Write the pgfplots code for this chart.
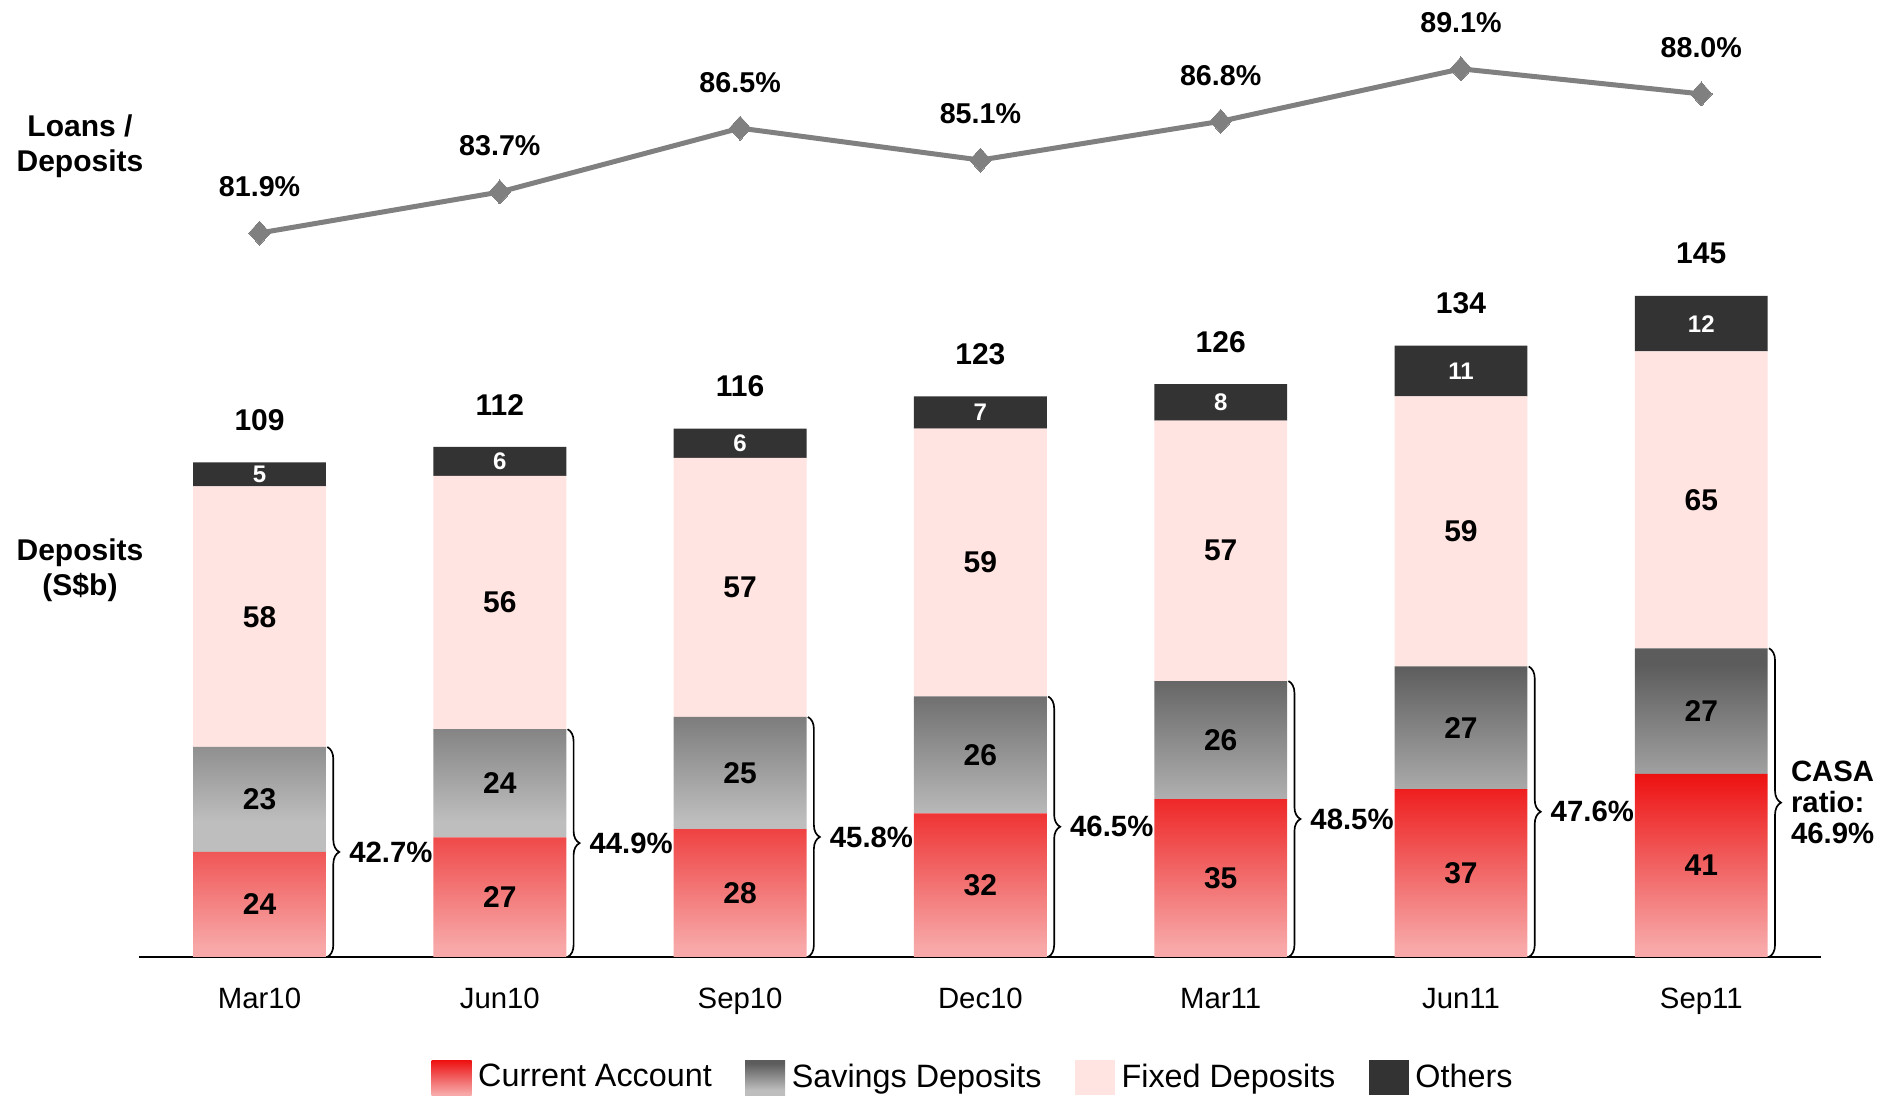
\documentclass[border=0pt]{standalone}
\usepackage{pgfplots}
\pgfplotsset{compat=1.18}
\usepackage{pgfplotstable}
\usepackage{fontspec}
\setmainfont{Liberation Sans}
\usetikzlibrary{decorations.pathreplacing}

\definecolor{caDark}{HTML}{EE1111}
\definecolor{caMid}{HTML}{F16262}
\definecolor{caLight}{HTML}{F8A8A8}
\definecolor{saDark}{HTML}{5C5C5C}
\definecolor{saLight}{HTML}{BEBEBE}
\definecolor{fdCol}{HTML}{FFE4E1}
\definecolor{otCol}{HTML}{333333}
\definecolor{lineCol}{HTML}{808080}

\pgfdeclareverticalshading{caShade}{100bp}{color(0bp)=(caLight); color(27.5bp)=(caLight); color(50bp)=(caMid); color(75bp)=(caDark); color(100bp)=(caDark)}
\pgfdeclareverticalshading{saShade}{100bp}{color(0bp)=(saLight); color(32.5bp)=(saLight); color(71bp)=(saDark); color(100bp)=(saDark)}

\pgfplotstableread{
x ca sa fd ot
0 23.1 23.1 57.3 5.3
1 26.3 23.8 55.7 6.4
2 28.1 24.7 57.0 6.4
3 31.6 25.7 58.9 7.1
4 34.7 26.0 57.3 8.0
5 36.9 27.0 59.4 11.2
6 40.3 27.6 65.3 12.2
}\deposits

\pgfplotstableread{
x y lab
0 11.55 24
0 34.65 23
0 74.85 58
0 118.1 109
1 13.15 27
1 38.2 24
1 77.95 56
1 121.5 112
2 14.05 28
2 40.45 25
2 81.3 57
2 125.5 116
3 15.8 32
3 44.45 26
3 86.75 59
3 132.6 123
4 17.35 35
4 47.7 26
4 89.35 57
4 135.3 126
5 18.45 37
5 50.4 27
5 93.6 59
5 143.8 134
6 20.15 41
6 54.1 27
6 100.55 65
6 154.7 145
}\blacklabels

\pgfplotstableread{
x y lab
0 106.15 5
1 109.0 6
2 113.0 6
3 119.75 7
4 122.0 8
5 128.9 11
6 139.3 12
}\whitelabels

\pgfplotstableread{
x ratio lab
0 81.9 81.9\%
1 83.7 83.7\%
2 86.5 86.5\%
3 85.1 85.1\%
4 86.8 86.8\%
5 89.1 89.1\%
6 88.0 88.0\%
}\ldr

\newcommand{\numfont}{\fontsize{9pt}{10.5pt}\selectfont\bfseries}

\begin{document}
\begin{tikzpicture}
\path[use as bounding box] (0,0) rectangle (567.9pt,329.1pt);

% bars
\begin{axis}[
  at={(41.82pt,42pt)}, anchor=south west,
  width=504.6pt, height=287.1pt, scale only axis,
  xmin=-0.5, xmax=6.5, ymin=0, ymax=210.5,
  ybar stacked, bar width=0.553,
  axis x line*=bottom, axis y line=none,
  x axis line style={black, line width=0.7pt, -},
  xtick={0,1,2,3,4,5,6},
  xticklabels={Mar10,Jun10,Sep10,Dec10,Mar11,Jun11,Sep11},
  major tick length=0pt,
  xticklabel style={anchor=north, inner sep=0pt, yshift=-9.2pt, font=\fontsize{8.8pt}{10pt}\selectfont},
  ytick=\empty,
  clip=false,
  legend columns=4,
  legend style={at={(0.497,-0.1264)}, anchor=center, draw=none, fill=none,
    font=\fontsize{9.7pt}{11pt}\selectfont,
    /tikz/every even column/.append style={column sep=8pt},
    /tikz/every odd column/.append style={column sep=0pt}},
  legend cell align=left,
]
\addplot[draw=none, shade, shading=caShade,
  legend image code/.code={\path[draw=none, shade, shading=caShade] (0pt,-5.25pt) rectangle (12pt,5.25pt);}]
  table[x=x, y=ca] {\deposits};
\addlegendentry{Current Account}
\addplot[draw=none, shade, shading=saShade,
  legend image code/.code={\path[draw=none, shade, shading=saShade] (0pt,-5.25pt) rectangle (12pt,5.25pt);}]
  table[x=x, y=sa] {\deposits};
\addlegendentry{Savings Deposits}
\addplot[draw=none, fill=fdCol,
  legend image code/.code={\fill[fdCol] (0pt,-5.25pt) rectangle (12pt,5.25pt);}]
  table[x=x, y=fd] {\deposits};
\addlegendentry{Fixed Deposits}
\addplot[draw=none, fill=otCol,
  legend image code/.code={\fill[otCol] (0pt,-5.25pt) rectangle (12pt,5.25pt);}]
  table[x=x, y=ot] {\deposits};
\addlegendentry{Others}
\end{axis}

% labels and braces, same scale as bars
\begin{axis}[
  at={(41.82pt,42pt)}, anchor=south west,
  width=504.6pt, height=287.1pt, scale only axis,
  xmin=-0.5, xmax=6.5, ymin=0, ymax=210.5,
  hide axis, clip=false,
]
\addplot[draw=none, mark=none, nodes near coords, point meta=explicit symbolic,
  every node near coord/.append style={anchor=center, inner sep=0pt, text=black, font=\numfont}]
  table[x=x, y=y, meta=lab] {\blacklabels};
\addplot[draw=none, mark=none, nodes near coords, point meta=explicit symbolic,
  every node near coord/.append style={anchor=center, inner sep=0pt, text=white, font=\fontsize{7.2pt}{8pt}\selectfont\bfseries}]
  table[x=x, y=y, meta=lab] {\whitelabels};

\begin{scope}[line width=0.5pt, decoration={brace, amplitude=3.6pt}]
\draw[decorate] (axis cs:0.282,46.2) -- (axis cs:0.282,0);
\draw[decorate] (axis cs:1.282,50.1) -- (axis cs:1.282,0);
\draw[decorate] (axis cs:2.282,52.8) -- (axis cs:2.282,0);
\draw[decorate] (axis cs:3.282,57.3) -- (axis cs:3.282,0);
\draw[decorate] (axis cs:4.282,60.7) -- (axis cs:4.282,0);
\draw[decorate] (axis cs:5.282,63.9) -- (axis cs:5.282,0);
\draw[decorate] (axis cs:6.282,67.9) -- (axis cs:6.282,0);
\end{scope}
\begin{scope}[every node/.style={anchor=west, inner sep=0pt, xshift=6.4pt, font=\fontsize{8.8pt}{9.3pt}\selectfont\bfseries}]
\node at (axis cs:0.282,23.1) {42.7\%};
\node at (axis cs:1.282,25.05) {44.9\%};
\node at (axis cs:2.282,26.4) {45.8\%};
\node at (axis cs:3.282,28.65) {46.5\%};
\node at (axis cs:4.282,30.35) {48.5\%};
\node at (axis cs:5.282,31.95) {47.6\%};
\node[align=left] at (axis cs:6.282,33.95) {CASA\\ratio:\\46.9\%};
\end{scope}
\end{axis}

% loans / deposits line
\begin{axis}[
  at={(41.82pt,42pt)}, anchor=south west,
  width=504.6pt, height=287.1pt, scale only axis,
  xmin=-0.5, xmax=6.5, ymin=50.15, ymax=92.12,
  hide axis, clip=false,
]
\addplot[lineCol, line width=1.5pt, mark=diamond*, mark size=3.6pt,
  mark options={fill=lineCol, draw=lineCol, line width=0pt, xscale=1.2},
  nodes near coords, point meta=explicit symbolic,
  every node near coord/.append style={anchor=center, yshift=13.8pt, text=black, font=\fontsize{8.6pt}{10pt}\selectfont\bfseries}]
  table[x=x, y=ratio, meta=lab] {\ldr};
\end{axis}

\node[align=center, font=\fontsize{9pt}{10.5pt}\selectfont\bfseries] at (24pt,285.3pt) {Loans /\\Deposits};
\node[align=center, font=\fontsize{9pt}{10.5pt}\selectfont\bfseries] at (24pt,158.1pt) {Deposits\\(S\$b)};
\end{tikzpicture}
\end{document}
